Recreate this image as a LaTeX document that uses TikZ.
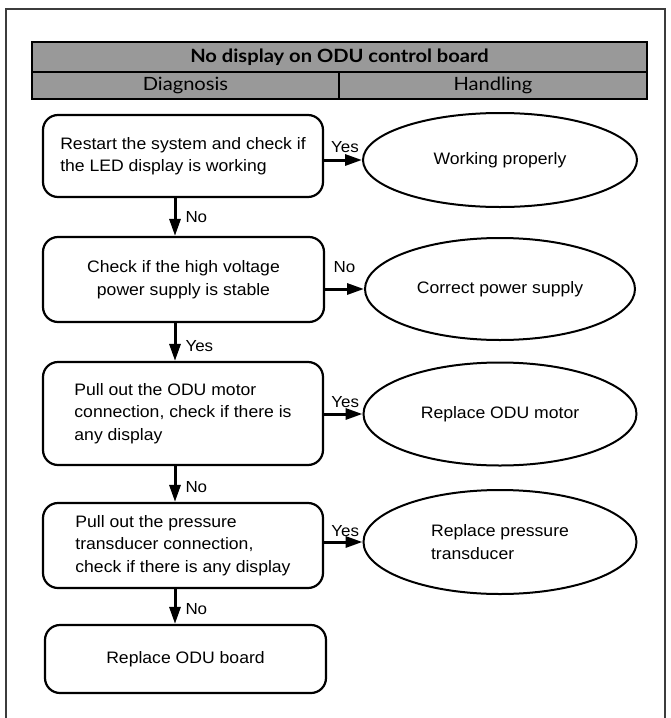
\documentclass[tikz,border=0pt]{standalone}
\usepackage{fontspec}
\setmainfont{Liberation Sans}[FakeStretch=1.06]
\newfontfamily\hdrfont{Lato}[FakeStretch=1.1]
\usetikzlibrary{shapes.geometric,arrows.meta,positioning}
\definecolor{hdrgray}{RGB}{153,153,153}
\definecolor{framegray}{RGB}{60,60,60}
\begin{document}
\begin{tikzpicture}[x=1pt,y=-1pt,
  hdr/.style={draw=black,line width=2.4pt,fill=hdrgray,inner sep=0pt,font=\hdrfont\fontsize{18.3}{20}\selectfont},
  stepbox/.style={draw=black,line width=2.2pt,rounded corners=15pt,inner sep=0pt,
    font=\fontsize{16.6}{22.5}\selectfont},
  endoval/.style={draw=black,ellipse,line width=2pt,inner sep=0pt,
    font=\fontsize{16.6}{22.5}\selectfont},
  arr/.style={line width=3pt,-{Triangle[length=17pt,width=11pt]}},
  lbl/.style={font=\fontsize{16}{18}\selectfont,inner sep=1pt}]
\useasboundingbox (0,0) rectangle (671,718);
\draw[framegray,line width=1.4pt] (6,718) -- (6,9) -- (665,9) -- (665,718);
% header
\node[hdr,minimum width=615pt,minimum height=30pt] (title) at (339.5,57) {\bfseries No display on ODU control board};
\node[hdr,minimum width=307pt,minimum height=27pt] (diag) at (185.5,85.5) {Diagnosis};
\node[hdr,minimum width=308pt,minimum height=27pt] (hand) at (493,85.5) {Handling};
% diagnosis boxes
\node[stepbox,minimum width=280pt,minimum height=82pt,align=left] (b1) at (183,156)
  {Restart the system and check if\\the LED display is working};
\node[stepbox,minimum width=281pt,minimum height=85pt,align=center] (b2) at (183.5,279.5)
  {Check if the high voltage\\power supply is stable};
\node[stepbox,minimum width=280pt,minimum height=103pt,align=left] (b3) at (183,413.5)
  {Pull out the ODU motor\\connection, check if there is\\any display};
\node[stepbox,minimum width=280pt,minimum height=85pt,align=left] (b4) at (183,545.5)
  {Pull out the pressure\\transducer connection,\\check if there is any display};
\node[stepbox,minimum width=281pt,minimum height=68pt] (b5) at (185.5,659)
  {Replace ODU board};
% handling ovals
\node[endoval,minimum width=274pt,minimum height=94pt] (e1) at (500,160) {Working properly};
\node[endoval,minimum width=270pt,minimum height=102pt] (e2) at (500,289) {Correct power supply};
\node[endoval,minimum width=273pt,minimum height=103pt] (e3) at (500,414) {Replace ODU motor};
\node[endoval,minimum width=273pt,minimum height=104pt,align=left] (e4) at (500,542)
  {Replace pressure\\transducer};
% connectors
\coordinate (ax) at (175,0);
\draw[arr] (b1.south -| ax) -- node[lbl,right,xshift=8pt] {No} (b2.north -| ax);
\draw[arr] (b2.south -| ax) -- node[lbl,right,xshift=8pt,yshift=-4pt] {Yes} (b3.north -| ax);
\draw[arr] (b3.south -| ax) -- node[lbl,right,xshift=8pt,yshift=-3pt] {No} (b4.north -| ax);
\draw[arr] (b4.south -| ax) -- node[lbl,right,xshift=8pt,yshift=-3pt] {No} (b5.north -| ax);
\draw[arr] (b1.east |- e1.west) -- node[lbl,above,yshift=5pt,xshift=2pt] {Yes} (e1.west);
\draw[arr] (b2.east |- e2.west) -- node[lbl,above,yshift=14pt] {No} (e2.west);
\draw[arr] (b3.east |- e3.west) -- node[lbl,above,yshift=4pt,xshift=2pt] {Yes} (e3.west);
\draw[arr] (b4.east |- e4.west) -- node[lbl,above,yshift=3pt,xshift=2pt] {Yes} (e4.west);
\end{tikzpicture}
\end{document}
